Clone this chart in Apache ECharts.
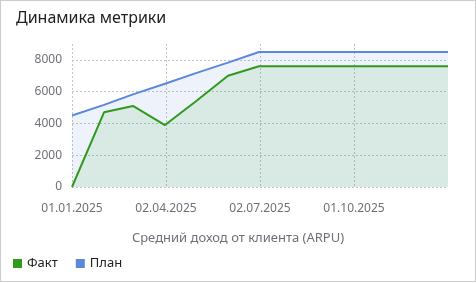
<!DOCTYPE html>
<html>
<head>
<meta charset="utf-8">
<script src="https://cdn.jsdelivr.net/npm/echarts@6/dist/echarts.min.js"></script>
<style>
html,body{margin:0;padding:0;background:#fff;}
#wrap{position:absolute;left:0;top:0;width:476px;height:282px;box-sizing:border-box;border:1px solid #cccccc;background:#fff;}
#chart{position:absolute;left:0;top:0;width:474px;height:280px;}
</style>
</head>
<body>
<div id="wrap"><div id="chart"></div></div>
<script>
// ---- data ----
var titleText = 'Динамика метрики';
var axisTitle = 'Средний доход от клиента (ARPU)';
var seriesNames = ['Факт', 'План'];
var dates = ['2025-01-01','2025-02-01','2025-03-01','2025-04-01','2025-05-01','2025-06-01','2025-07-01','2025-12-31'];
var factValues = [0, 4700, 5100, 3900, 5400, 7000, 7600, 7600];
var planValues = [4500, 5170, 5830, 6500, 7170, 7830, 8500, 8500];
var yTicks = [0, 2000, 4000, 6000, 8000];

var DAY = 86400000;
var base = Date.UTC(2025, 0, 1);
function toDay(s){ var p = s.split('-'); return Math.round((Date.UTC(+p[0], +p[1]-1, +p[2]) - base) / DAY); }
function fmt(d){
  var t = new Date(base + d * DAY);
  var dd = ('0' + t.getUTCDate()).slice(-2), mm = ('0' + (t.getUTCMonth()+1)).slice(-2);
  return dd + '.' + mm + '.' + t.getUTCFullYear();
}
var factData = dates.map(function(d,i){ return [toDay(d), factValues[i]]; });
var planData = dates.map(function(d,i){ return [toDay(d), planValues[i]]; });

var FONT = '"Noto Sans", sans-serif';
var GRID = {type: [2, 2], color: '#c4c4c4', width: 1};
var chart = echarts.init(document.getElementById('chart'), null, {renderer:'canvas'});
chart.setOption({
  animation: false,
  title: [{
    text: titleText, left: 10, top: 4,
    textStyle: {fontSize: 16, fontWeight: 'normal', color: '#222', fontFamily: FONT}
  },{
    text: axisTitle, left: 'center', top: 226,
    textStyle: {fontSize: 13, fontWeight: 'normal', color: '#6e7079', fontFamily: FONT}
  }],
  legend: {
    data: seriesNames, left: 7, top: 251, icon: 'rect', itemWidth: 9, itemHeight: 9, itemGap: 18,
    textStyle: {fontSize: 13, color: '#222', fontFamily: FONT}
  },
  grid: {left: 71, right: 27, top: 43, bottom: 94},
  xAxis: {
    type: 'value', min: 0, max: 364, interval: 91,
    axisLine: {show: false}, axisTick: {show: false},
    axisLabel: {formatter: fmt, showMaxLabel: false, color: '#6e7079', fontSize: 12, fontFamily: FONT, margin: 16},
    splitLine: {show: true, showMaxLine: false, lineStyle: GRID}
  },
  yAxis: {
    type: 'value', min: yTicks[0], max: 9000, interval: 2000,
    axisLine: {show: false}, axisTick: {show: false},
    axisLabel: {showMaxLabel: false, formatter: function(v){ return String(v); }, color: '#6e7079', fontSize: 12, fontFamily: FONT, margin: 10},
    splitLine: {show: true, showMaxLine: false, lineStyle: GRID}
  },
  series: [{
    name: seriesNames[1], type: 'line', data: planData, symbol: 'none', z: 2,
    lineStyle: {width: 2, color: '#5b87dc'}, itemStyle: {color: '#5b87dc'},
    areaStyle: {color: '#5b87dc', opacity: 0.11}
  },{
    name: seriesNames[0], type: 'line', data: factData, symbol: 'none', z: 3,
    lineStyle: {width: 2, color: '#2f9a1c'}, itemStyle: {color: '#2f9a1c'},
    areaStyle: {color: '#2f9a1c', opacity: 0.1}
  }]
});
</script>
</body>
</html>
